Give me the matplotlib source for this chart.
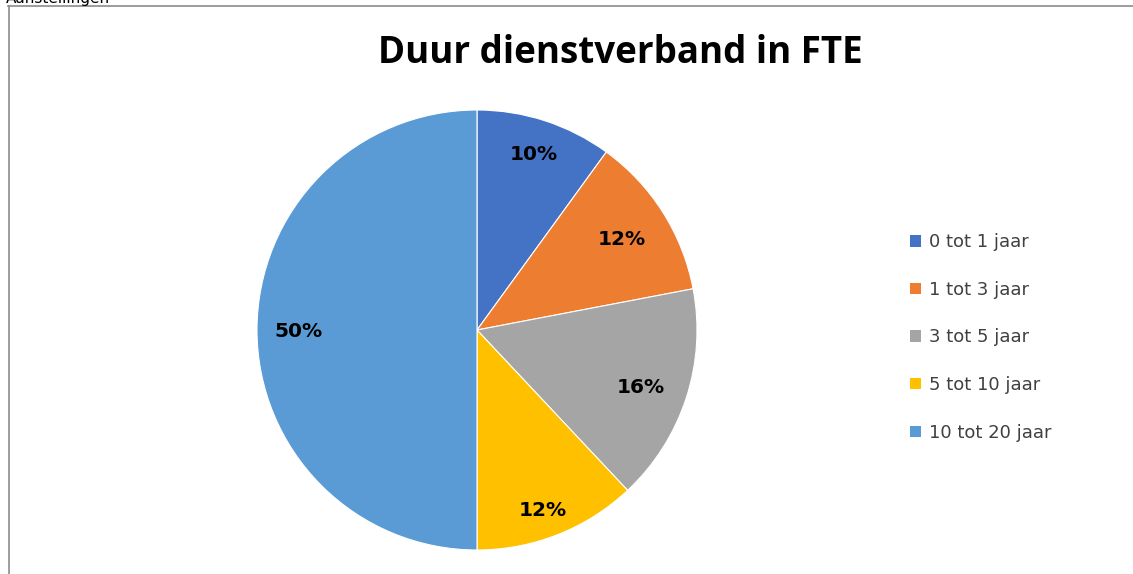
import matplotlib
matplotlib.use('Agg')
import matplotlib.pyplot as plt
from matplotlib.lines import Line2D

# ── data ──────────────────────────────────────────────────────────────────────
categories = ['0 tot 1 jaar', '1 tot 3 jaar', '3 tot 5 jaar', '5 tot 10 jaar', '10 tot 20 jaar']
shares     = [10, 12, 16, 12, 50]
colors     = ['#4472C4', '#ED7D31', '#A5A5A5', '#FFC000', '#5B9BD5']
title      = 'Duur dienstverband in FTE'

# label positions (in pie-radius units), mimicking Excel "best fit"
label_pos = [(0.26, 0.80), (0.66, 0.41), (0.745, -0.26), (0.30, -0.82), (-0.81, -0.005)]

W, H = 1133, 574
fig = plt.figure(figsize=(W / 100, H / 100), dpi=100)
fig.patch.set_facecolor('white')

# pie centred at (477, 330) px, radius 220 px
cx, cy, r = 477, 330, 220
ax = fig.add_axes([(cx - r) / W, (H - cy - r) / H, 2 * r / W, 2 * r / H])
wedges, texts, autotexts = ax.pie(
    shares, colors=colors, startangle=90, counterclock=False,
    radius=1.0, autopct='%d%%',
    wedgeprops=dict(edgecolor='white', linewidth=0.8),
    textprops=dict(fontsize=14.5, fontweight='bold', color='black',
                   family='DejaVu Sans'))
for t, (x, y) in zip(autotexts, label_pos):
    t.set_position((x, y))
    t.set_ha('center')
    t.set_va('center')
ax.set_xlim(-1, 1)
ax.set_ylim(-1, 1)
ax.set_aspect('equal')
ax.axis('off')

fig.text(620 / W, 1 - 53 / H, title, ha='center', va='center',
         fontsize=26.5, fontweight='bold', color='black', family='Open Sans')

# legend
leg = fig.legend(wedges, categories, loc='upper left',
                 bbox_to_anchor=(894 / W, 1 - 217 / H),
                 frameon=False, handlelength=0.6,
                 handleheight=0.6, handletextpad=0.45, labelspacing=1.64,
                 prop=dict(family='DejaVu Sans', size=13))
for t in leg.get_texts():
    t.set_color('#404040')
for h in leg.legend_handles:
    h.set_edgecolor('none')

# chart border (left and top only visible)
fig.add_artist(Line2D([8.5 / W, 8.5 / W], [0, 1 - 6 / H], color='#8c8c8c', lw=1.2))
fig.add_artist(Line2D([8 / W, 1], [1 - 6 / H, 1 - 6 / H], color='#8c8c8c', lw=1.2))

# clipped caption at the very top
fig.text(6 / W, 1 - 3 / H, 'Aanstellingen', ha='left', va='baseline',
         fontsize=11, color='black', family='DejaVu Sans')

fig.savefig('out.png', dpi=100, facecolor='white')
